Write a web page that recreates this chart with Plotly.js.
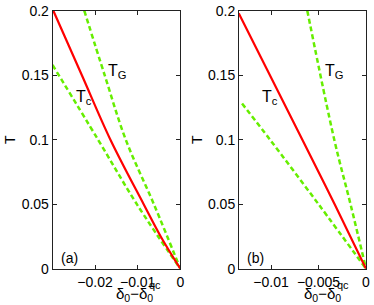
<!DOCTYPE html>
<html>
<head>
<meta charset="utf-8">
<script src="https://cdn.plot.ly/plotly-3.0.1.min.js"></script>
<style>html,body{margin:0;padding:0;background:#fff;}#chart{width:374px;height:305px;}</style>
</head>
<body>
<div id="chart"></div>
<script>
// Panel (a) data
const a_Tc_x = [-0.0298, -0.0231, -0.0164, -0.0086, -0.0046, 0];
const a_Tc_T = [0.2, 0.15, 0.1, 0.05, 0.025, 0];
const a_TGup_x = [-0.02254, -0.01775, -0.0128, -0.0062, 0];
const a_TGup_T = [0.2, 0.15, 0.1, 0.05, 0];
const a_TGlo_x = [-0.0300, -0.0193, -0.0102, 0];
const a_TGlo_T = [0.158, 0.1, 0.05, 0];
// Panel (b) data
const b_Tc_x = [-0.0134, -0.0067, -0.0033, 0];
const b_Tc_T = [0.198, 0.1, 0.05, 0];
const b_TGup_x = [-0.00618, -0.00334, -0.00163, 0];
const b_TGup_T = [0.2, 0.1, 0.05, 0];
const b_TGlo_x = [-0.01305, -0.0101, -0.0050, 0];
const b_TGlo_T = [0.128, 0.1, 0.05, 0];
// Tick labels
const a_xticks = [-0.02, -0.01, 0];
const a_xticktext = ["\u22120.02", "\u22120.01", "0"];
const b_xticks = [-0.01, -0.005, 0];
const b_xticktext = ["\u22120.01", "\u22120.005", "0"];
const yticks = [0, 0.05, 0.1, 0.15, 0.2];
const yticktext = ["0", "0.05", "0.1", "0.15", "0.2"];

const RED = '#ff0000', GREEN = '#66ee00';
const red = {color: RED, width: 2.2, shape: 'spline', smoothing: 1};
const green = {color: GREEN, width: 2.5, dash: '5px,3px', shape: 'spline', smoothing: 1};

const traces = [
  {x: a_TGup_x, y: a_TGup_T, mode: 'lines', line: green, xaxis: 'x', yaxis: 'y'},
  {x: a_TGlo_x, y: a_TGlo_T, mode: 'lines', line: green, xaxis: 'x', yaxis: 'y'},
  {x: a_Tc_x, y: a_Tc_T, mode: 'lines', line: red, xaxis: 'x', yaxis: 'y'},
  {x: b_TGup_x, y: b_TGup_T, mode: 'lines', line: green, xaxis: 'x2', yaxis: 'y2'},
  {x: b_TGlo_x, y: b_TGlo_T, mode: 'lines', line: green, xaxis: 'x2', yaxis: 'y2'},
  {x: b_Tc_x, y: b_Tc_T, mode: 'lines', line: red, xaxis: 'x2', yaxis: 'y2'}
];

const W = 374, H = 305;
const px = v => v / W, py = v => 1 - v / H;
const FONT = 'Liberation Sans, Arial, sans-serif';

const axBase = {
  showline: true, mirror: 'ticks', linecolor: '#222', linewidth: 1,
  ticks: 'inside', ticklen: 4, tickcolor: '#222', tickwidth: 1,
  showgrid: false, zeroline: false, fixedrange: true,
  tickfont: {family: FONT, size: 14, color: '#000'}
};

function ann(text, x, y, size, xanchor) {
  return {text: text, x: px(x), y: py(y), xref: 'paper', yref: 'paper',
    xanchor: xanchor || 'left', yanchor: 'middle', showarrow: false,
    font: {family: FONT, size: size, color: '#000'}};
}

const layout = {
  width: W, height: H,
  margin: {l: 0, r: 0, t: 0, b: 0},
  paper_bgcolor: '#fff', plot_bgcolor: '#fff',
  showlegend: false,
  font: {family: FONT, size: 14, color: '#000'},
  xaxis: Object.assign({}, axBase, {domain: [px(52.7), px(180.3)], range: [-0.02995, 0],
    tickvals: a_xticks, ticktext: a_xticktext, anchor: 'y'}),
  yaxis: Object.assign({}, axBase, {domain: [py(268.7), py(10.7)], range: [0, 0.2],
    tickvals: yticks, ticktext: yticktext, anchor: 'x',
    title: {text: 'T', font: {family: FONT, size: 14, color: '#000'}, standoff: 2}}),
  xaxis2: Object.assign({}, axBase, {domain: [px(239), px(366)], range: [-0.01337, 0],
    tickvals: b_xticks, ticktext: b_xticktext, anchor: 'y2'}),
  yaxis2: Object.assign({}, axBase, {domain: [py(268.7), py(10.7)], range: [0, 0.2],
    tickvals: yticks, ticktext: yticktext, anchor: 'x2',
    title: {text: 'T', font: {family: FONT, size: 14, color: '#000'}, standoff: 2}}),
  annotations: [
    ann('T<sub>G</sub>', 106, 71, 16),
    ann('T<sub>c</sub>', 74, 97, 16),
    ann('T<sub>G</sub>', 323, 71, 16),
    ann('T<sub>c</sub>', 260, 97, 16),
    ann('(a)', 59, 258, 14),
    ann('(b)', 245, 258, 14),
    ann('\u03b4<sub>0</sub>\u2212\u03b4<sub>0</sub>', 114, 294, 15),
    ann('qc', 147, 285, 11),
    ann('\u03b4<sub>0</sub>\u2212\u03b4<sub>0</sub>', 302, 294, 15),
    ann('qc', 335, 285, 11)
  ]
};

Plotly.newPlot('chart', traces, layout, {staticPlot: true, displayModeBar: false});
</script>
</body>
</html>
